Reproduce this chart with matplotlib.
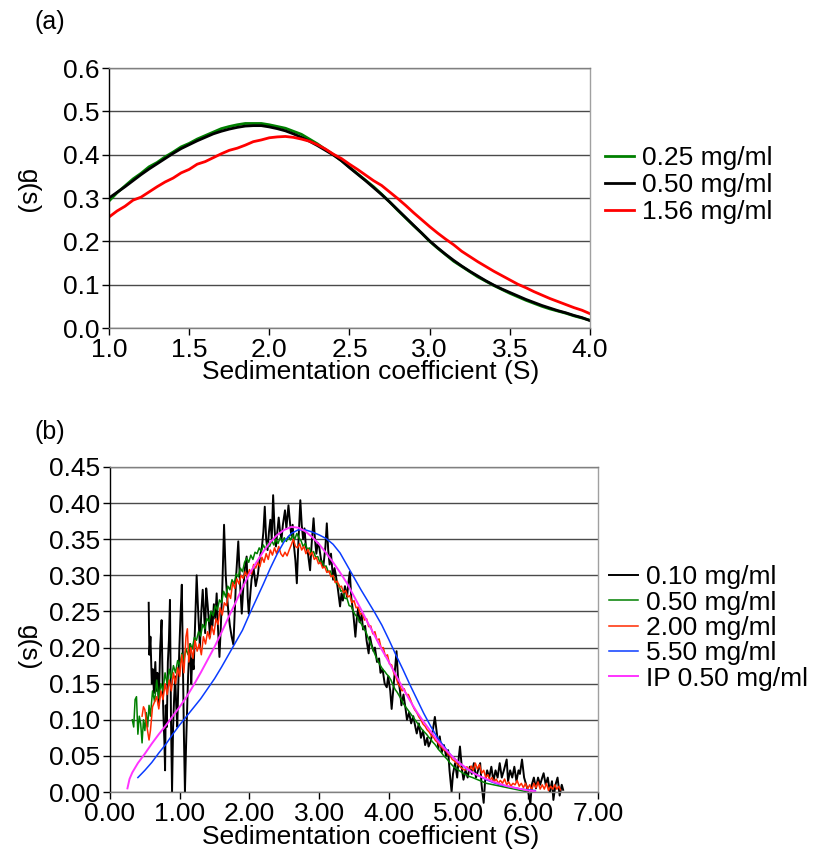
import matplotlib
matplotlib.use("Agg")
import matplotlib.pyplot as plt
import numpy as np

plt.rcParams['font.family'] = ['Liberation Sans', 'DejaVu Sans']

# ---------------- panel (a) data ----------------
a_x = [1.00, 1.05, 1.10, 1.15, 1.20, 1.25, 1.30, 1.35, 1.40, 1.45, 1.50, 1.55, 1.60, 1.65, 1.70,
       1.75, 1.80, 1.85, 1.90, 1.95, 2.00, 2.05, 2.10, 2.15, 2.20, 2.25, 2.30, 2.35, 2.40, 2.45,
       2.50, 2.55, 2.60, 2.65, 2.70, 2.75, 2.80, 2.85, 2.90, 2.95, 3.00, 3.05, 3.10, 3.15, 3.20,
       3.25, 3.30, 3.35, 3.40, 3.45, 3.50, 3.55, 3.60, 3.65, 3.70, 3.75, 3.80, 3.85, 3.90, 3.95, 4.00]
a_green = [0.293, 0.312, 0.328, 0.344, 0.357, 0.372, 0.382, 0.395, 0.406, 0.418, 0.426, 0.436, 0.444,
           0.452, 0.460, 0.465, 0.469, 0.472, 0.472, 0.472, 0.469, 0.465, 0.461, 0.454, 0.447, 0.436,
           0.425, 0.412, 0.400, 0.386, 0.371, 0.356, 0.341, 0.326, 0.309, 0.291, 0.272, 0.254, 0.236,
           0.219, 0.200, 0.184, 0.169, 0.154, 0.142, 0.130, 0.118, 0.108, 0.098, 0.089, 0.080, 0.072,
           0.064, 0.057, 0.050, 0.044, 0.039, 0.034, 0.028, 0.023, 0.018]
a_black = [0.300, 0.313, 0.326, 0.340, 0.354, 0.367, 0.379, 0.391, 0.403, 0.414, 0.423, 0.432, 0.440,
           0.448, 0.454, 0.459, 0.463, 0.466, 0.467, 0.467, 0.464, 0.460, 0.455, 0.448, 0.440, 0.431,
           0.421, 0.410, 0.399, 0.386, 0.370, 0.355, 0.340, 0.324, 0.308, 0.291, 0.273, 0.255, 0.237,
           0.219, 0.201, 0.185, 0.170, 0.156, 0.143, 0.131, 0.120, 0.109, 0.099, 0.090, 0.082, 0.074,
           0.066, 0.059, 0.052, 0.046, 0.040, 0.035, 0.029, 0.024, 0.017]
a_red = [0.256, 0.270, 0.281, 0.295, 0.302, 0.314, 0.326, 0.337, 0.346, 0.358, 0.366, 0.378, 0.384,
         0.393, 0.402, 0.410, 0.415, 0.422, 0.430, 0.434, 0.439, 0.441, 0.442, 0.440, 0.436, 0.431,
         0.423, 0.413, 0.401, 0.391, 0.378, 0.366, 0.353, 0.340, 0.329, 0.314, 0.299, 0.283, 0.266,
         0.250, 0.234, 0.219, 0.205, 0.192, 0.177, 0.165, 0.153, 0.142, 0.131, 0.121, 0.111, 0.101,
         0.093, 0.084, 0.076, 0.068, 0.061, 0.054, 0.047, 0.041, 0.033]
a_labels = ["0.25 mg/ml", "0.50 mg/ml", "1.56 mg/ml"]

# ---------------- panel (b) data ----------------
b_black_x = [0.555, 0.565, 0.58, 0.60, 0.615, 0.63, 0.65, 0.665, 0.68, 0.70, 0.72, 0.74, 0.755, 0.765,
             0.78, 0.79, 0.80, 0.815, 0.83, 0.845, 0.86, 0.875, 0.89, 0.905, 0.92, 0.935, 0.95, 0.965,
             0.98, 0.995, 1.01, 1.03, 1.045, 1.06, 1.075, 1.09, 1.105, 1.12, 1.135, 1.15, 1.165, 1.18,
             1.20, 1.22, 1.243, 1.26, 1.275, 1.29, 1.31, 1.33, 1.35, 1.365, 1.38, 1.40, 1.42, 1.435,
             1.45, 1.47, 1.49, 1.51, 1.53, 1.55, 1.57, 1.59, 1.61, 1.636, 1.66, 1.68, 1.70, 1.72,
             1.745, 1.77, 1.79, 1.81, 1.84, 1.865, 1.89, 1.91, 1.935, 1.96, 1.975, 1.99, 2.03, 2.06,
             2.09, 2.12, 2.15, 2.18, 2.20, 2.22, 2.24, 2.26, 2.28, 2.30, 2.32, 2.34, 2.36, 2.38, 2.40,
             2.42, 2.44, 2.46, 2.48, 2.51, 2.53, 2.56, 2.58, 2.60, 2.62, 2.64, 2.66, 2.68, 2.70, 2.73,
             2.75, 2.77, 2.79, 2.81, 2.84, 2.87, 2.89, 2.92, 2.94, 2.96, 2.98, 3.00, 3.03, 3.06, 3.09,
             3.11, 3.13, 3.15, 3.17, 3.20, 3.22, 3.24, 3.27, 3.30, 3.32, 3.34, 3.37, 3.40, 3.42, 3.44,
             3.46, 3.49, 3.52, 3.54, 3.56, 3.58, 3.61, 3.63, 3.66, 3.68, 3.71, 3.73, 3.75, 3.78, 3.80,
             3.83, 3.86, 3.88, 3.91, 3.94, 3.97, 3.99, 4.02, 4.04, 4.07, 4.09, 4.11, 4.13, 4.16, 4.18,
             4.21, 4.24, 4.26, 4.29, 4.32, 4.35, 4.38, 4.40, 4.43, 4.46, 4.49, 4.52, 4.55, 4.57, 4.60,
             4.63, 4.66, 4.69, 4.71, 4.73, 4.76, 4.79, 4.82, 4.85, 4.87, 4.90, 4.92, 4.95, 4.98, 5.00,
             5.02, 5.05, 5.07, 5.10, 5.13, 5.16, 5.19, 5.22, 5.25, 5.28, 5.31, 5.33, 5.36, 5.38, 5.41,
             5.44, 5.47, 5.50, 5.53, 5.56, 5.59, 5.62, 5.65, 5.69, 5.71, 5.74, 5.77, 5.80, 5.83, 5.86,
             5.88, 5.91, 5.94, 5.97, 6.00, 6.03, 6.05, 6.08, 6.11, 6.14, 6.17, 6.20, 6.22, 6.25, 6.28,
             6.31, 6.34, 6.36, 6.39, 6.42, 6.45, 6.48, 6.50]
b_black_y = [0.262, 0.190, 0.215, 0.150, 0.170, 0.137, 0.180, 0.140, 0.165, 0.120, 0.200, 0.238, 0.150,
             0.109, 0.070, 0.030, 0.120, 0.090, 0.180, 0.210, 0.266, 0.100, 0.000, 0.090, 0.130, 0.160,
             0.120, 0.090, 0.150, 0.200, 0.240, 0.287, 0.180, 0.080, 0.000, 0.060, 0.110, 0.160, 0.190,
             0.205, 0.150, 0.185, 0.170, 0.230, 0.300, 0.260, 0.230, 0.200, 0.250, 0.280, 0.245, 0.220,
             0.282, 0.260, 0.235, 0.215, 0.250, 0.230, 0.260, 0.240, 0.275, 0.225, 0.187, 0.230, 0.280,
             0.370, 0.300, 0.270, 0.247, 0.230, 0.215, 0.204, 0.250, 0.300, 0.347, 0.290, 0.247, 0.280,
             0.310, 0.326, 0.270, 0.247, 0.294, 0.310, 0.285, 0.300, 0.325, 0.340, 0.360, 0.395, 0.350,
             0.335, 0.360, 0.377, 0.350, 0.411, 0.365, 0.340, 0.360, 0.380, 0.360, 0.350, 0.370, 0.390,
             0.365, 0.397, 0.375, 0.355, 0.370, 0.340, 0.320, 0.289, 0.340, 0.404, 0.370, 0.350, 0.365,
             0.340, 0.330, 0.307, 0.340, 0.379, 0.350, 0.330, 0.345, 0.340, 0.320, 0.312, 0.340, 0.372,
             0.335, 0.315, 0.330, 0.294, 0.310, 0.300, 0.280, 0.257, 0.275, 0.265, 0.285, 0.270, 0.290,
             0.305, 0.270, 0.247, 0.215, 0.240, 0.255, 0.235, 0.245, 0.225, 0.230, 0.210, 0.192, 0.215,
             0.205, 0.195, 0.200, 0.180, 0.185, 0.165, 0.170, 0.150, 0.145, 0.160, 0.140, 0.115, 0.150,
             0.175, 0.195, 0.160, 0.140, 0.120, 0.135, 0.115, 0.100, 0.110, 0.095, 0.105, 0.090, 0.081,
             0.095, 0.075, 0.085, 0.065, 0.075, 0.063, 0.070, 0.085, 0.104, 0.080, 0.060, 0.077, 0.055,
             0.065, 0.050, 0.058, 0.030, 0.000, 0.025, 0.040, 0.020, 0.045, 0.063, 0.030, 0.017, 0.030,
             0.020, 0.035, 0.025, 0.040, 0.020, 0.030, 0.040, 0.010, -0.015, 0.015, 0.030, 0.020, 0.035,
             0.015, 0.030, 0.020, 0.040, 0.020, 0.030, 0.045, 0.015, 0.030, 0.020, 0.035, 0.015, 0.030,
             0.025, 0.045, 0.020, 0.010, 0.000, -0.016, 0.010, 0.020, 0.005, 0.020, 0.010, 0.020, 0.026,
             0.010, 0.020, 0.000, 0.015, -0.011, 0.010, 0.020, -0.005, 0.010, 0.003]

b_green_x = [0.32, 0.34, 0.36, 0.38, 0.40, 0.42, 0.44, 0.46, 0.48, 0.50, 0.52, 0.54, 0.56, 0.58, 0.61,
             0.64, 0.67, 0.70, 0.73, 0.76, 0.79, 0.82, 0.85, 0.88, 0.91, 0.94, 0.97, 1.00, 1.03, 1.06,
             1.09, 1.12, 1.15, 1.18, 1.21, 1.24, 1.27, 1.30, 1.33, 1.36, 1.39, 1.42, 1.45, 1.48, 1.51,
             1.54, 1.57, 1.60, 1.63, 1.66, 1.69, 1.72, 1.75, 1.78, 1.81, 1.84, 1.87, 1.90, 1.93, 1.96,
             1.99, 2.02, 2.05, 2.08, 2.11, 2.14, 2.17, 2.20, 2.23, 2.26, 2.29, 2.32, 2.35, 2.38, 2.41,
             2.44, 2.47, 2.50, 2.53, 2.56, 2.59, 2.62, 2.65, 2.68, 2.71, 2.74, 2.77, 2.80, 2.83, 2.86,
             2.89, 2.92, 2.95, 2.98, 3.01, 3.04, 3.07, 3.10, 3.13, 3.16, 3.19, 3.22, 3.25, 3.28, 3.31,
             3.34, 3.37, 3.40, 3.43, 3.46, 3.49, 3.52, 3.55, 3.58, 3.61, 3.64, 3.67, 3.70, 3.73, 3.76,
             3.79, 3.82, 3.85, 3.88, 3.91, 3.94, 3.97, 4.00, 4.03, 4.06, 4.09, 4.12, 4.15, 4.18, 4.21,
             4.24, 4.27, 4.30, 4.33, 4.36, 4.39, 4.42, 4.45, 4.48, 4.51, 4.54, 4.57, 4.60, 4.63, 4.66,
             4.69, 4.72, 4.75, 4.78, 4.81, 4.84, 4.87, 4.90, 4.93, 4.96, 4.99, 5.02, 5.05, 5.08, 5.11,
             5.14, 5.17, 5.20, 5.25, 5.30, 5.35, 5.40, 5.45, 5.50, 5.55, 5.60, 5.65, 5.70, 5.75, 5.80,
             5.85, 5.90, 5.95, 5.98]
b_green_y = [0.100, 0.090, 0.128, 0.132, 0.080, 0.105, 0.095, 0.068, 0.100, 0.085, 0.110, 0.090, 0.120,
             0.105, 0.140, 0.125, 0.155, 0.130, 0.150, 0.140, 0.165, 0.150, 0.170, 0.158, 0.175, 0.165,
             0.182, 0.175, 0.192, 0.183, 0.198, 0.190, 0.205, 0.198, 0.214, 0.210, 0.222, 0.216, 0.232,
             0.226, 0.240, 0.236, 0.250, 0.244, 0.258, 0.252, 0.266, 0.262, 0.278, 0.270, 0.285, 0.280,
             0.294, 0.288, 0.302, 0.298, 0.310, 0.305, 0.318, 0.324, 0.318, 0.328, 0.322, 0.332, 0.330,
             0.338, 0.333, 0.342, 0.336, 0.345, 0.340, 0.348, 0.342, 0.350, 0.344, 0.352, 0.346, 0.352,
             0.347, 0.354, 0.349, 0.356, 0.350, 0.358, 0.352, 0.348, 0.340, 0.344, 0.336, 0.338, 0.330,
             0.333, 0.325, 0.326, 0.318, 0.320, 0.312, 0.313, 0.305, 0.306, 0.298, 0.297, 0.288, 0.288,
             0.278, 0.279, 0.268, 0.268, 0.258, 0.257, 0.250, 0.245, 0.242, 0.236, 0.232, 0.226, 0.222,
             0.214, 0.208, 0.200, 0.193, 0.186, 0.180, 0.175, 0.170, 0.167, 0.163, 0.160, 0.155, 0.148,
             0.142, 0.138, 0.133, 0.128, 0.122, 0.118, 0.114, 0.110, 0.106, 0.102, 0.098, 0.094, 0.090,
             0.086, 0.083, 0.080, 0.076, 0.073, 0.069, 0.066, 0.062, 0.058, 0.055, 0.051, 0.048, 0.045,
             0.041, 0.038, 0.035, 0.033, 0.031, 0.029, 0.027, 0.025, 0.024, 0.022, 0.021, 0.020, 0.018,
             0.016, 0.014, 0.012, 0.011, 0.010, 0.009, 0.008, 0.007, 0.006, 0.005, 0.004, 0.003, 0.002,
             0.001, 0.000]

b_red_x = [0.46, 0.48, 0.50, 0.53, 0.56, 0.58, 0.61, 0.64, 0.67, 0.70, 0.73, 0.76, 0.79, 0.82, 0.85,
           0.88, 0.91, 0.94, 0.97, 1.00, 1.03, 1.06, 1.09, 1.11, 1.13, 1.16, 1.19, 1.22, 1.25, 1.28,
           1.31, 1.34, 1.37, 1.40, 1.43, 1.46, 1.49, 1.52, 1.55, 1.58, 1.61, 1.64, 1.67, 1.70, 1.73,
           1.76, 1.79, 1.82, 1.85, 1.88, 1.91, 1.94, 1.97, 2.00, 2.03, 2.06, 2.09, 2.12, 2.15, 2.18,
           2.21, 2.24, 2.27, 2.30, 2.33, 2.36, 2.39, 2.42, 2.45, 2.48, 2.51, 2.54, 2.57, 2.60, 2.63,
           2.66, 2.69, 2.72, 2.75, 2.78, 2.81, 2.84, 2.87, 2.90, 2.93, 2.96, 2.99, 3.02, 3.05, 3.08,
           3.11, 3.14, 3.17, 3.20, 3.23, 3.26, 3.29, 3.32, 3.35, 3.38, 3.41, 3.44, 3.47, 3.50, 3.53,
           3.56, 3.59, 3.62, 3.65, 3.68, 3.71, 3.74, 3.77, 3.80, 3.83, 3.86, 3.89, 3.92, 3.95, 3.98,
           4.01, 4.04, 4.07, 4.10, 4.13, 4.16, 4.19, 4.22, 4.25, 4.28, 4.31, 4.34, 4.37, 4.40, 4.43,
           4.46, 4.49, 4.52, 4.55, 4.58, 4.61, 4.64, 4.67, 4.70, 4.73, 4.76, 4.79, 4.82, 4.85, 4.88,
           4.91, 4.94, 4.97, 5.00, 5.03, 5.06, 5.09, 5.12, 5.15, 5.18, 5.21, 5.24, 5.27, 5.30, 5.33,
           5.36, 5.39, 5.42, 5.45, 5.48, 5.51, 5.54, 5.57, 5.60, 5.63, 5.66, 5.69, 5.72, 5.75, 5.78,
           5.81, 5.84, 5.87, 5.90, 5.93, 5.96, 5.99, 6.02, 6.05, 6.08, 6.11, 6.14, 6.17, 6.20, 6.23,
           6.26, 6.29, 6.32, 6.35, 6.38, 6.41, 6.44, 6.46]
b_red_y = [0.105, 0.118, 0.114, 0.090, 0.072, 0.085, 0.118, 0.125, 0.132, 0.115, 0.140, 0.128, 0.150,
           0.135, 0.155, 0.140, 0.165, 0.150, 0.172, 0.160, 0.190, 0.165, 0.215, 0.226, 0.180, 0.200,
           0.185, 0.210, 0.195, 0.205, 0.190, 0.215, 0.205, 0.222, 0.212, 0.230, 0.218, 0.240, 0.232,
           0.255, 0.245, 0.262, 0.258, 0.275, 0.268, 0.290, 0.282, 0.295, 0.288, 0.300, 0.296, 0.305,
           0.298, 0.308, 0.302, 0.315, 0.310, 0.318, 0.312, 0.325, 0.318, 0.330, 0.322, 0.335, 0.328,
           0.338, 0.330, 0.340, 0.330, 0.326, 0.332, 0.327, 0.335, 0.342, 0.350, 0.340, 0.338, 0.344,
           0.335, 0.340, 0.330, 0.336, 0.328, 0.332, 0.322, 0.325, 0.316, 0.318, 0.310, 0.312, 0.304,
           0.306, 0.298, 0.300, 0.290, 0.292, 0.284, 0.285, 0.276, 0.279, 0.270, 0.272, 0.262, 0.265,
           0.255, 0.256, 0.246, 0.248, 0.238, 0.240, 0.229, 0.230, 0.219, 0.222, 0.210, 0.212, 0.199,
           0.200, 0.188, 0.190, 0.177, 0.176, 0.165, 0.160, 0.150, 0.146, 0.140, 0.143, 0.135, 0.135,
           0.128, 0.120, 0.114, 0.110, 0.104, 0.100, 0.094, 0.091, 0.086, 0.083, 0.078, 0.076, 0.071,
           0.069, 0.064, 0.062, 0.058, 0.057, 0.052, 0.050, 0.045, 0.043, 0.040, 0.037, 0.034, 0.032,
           0.030, 0.035, 0.029, 0.036, 0.030, 0.040, 0.032, 0.038, 0.026, 0.030, 0.020, 0.024, 0.016,
           0.020, 0.014, 0.018, 0.012, 0.016, 0.012, 0.018, 0.010, 0.014, 0.008, 0.012, 0.010, 0.016,
           0.008, 0.012, 0.006, 0.012, 0.004, 0.010, 0.003, 0.012, 0.006, 0.014, 0.004, 0.010, 0.004,
           0.012, 0.002, 0.008, 0.004, 0.010, 0.004, 0.008, 0.003]

b_blue_x = [0.40, 0.50, 0.60, 0.70, 0.80, 0.90, 1.00, 1.10, 1.20, 1.30, 1.40, 1.50, 1.60, 1.70, 1.80,
            1.90, 2.00, 2.10, 2.20, 2.30, 2.40, 2.50, 2.60, 2.70, 2.80, 2.90, 3.00, 3.10, 3.20, 3.30,
            3.40, 3.50, 3.60, 3.70, 3.80, 3.90, 4.00, 4.10, 4.20, 4.30, 4.40, 4.50, 4.60, 4.70, 4.80,
            4.90, 5.00, 5.10, 5.20, 5.30, 5.40, 5.50, 5.60, 5.70, 5.80, 5.90, 6.00, 6.10]
b_blue_y = [0.020, 0.030, 0.041, 0.054, 0.066, 0.080, 0.093, 0.105, 0.117, 0.129, 0.143, 0.157, 0.173,
            0.190, 0.207, 0.224, 0.246, 0.267, 0.288, 0.310, 0.330, 0.347, 0.358, 0.363, 0.363, 0.360,
            0.356, 0.351, 0.343, 0.331, 0.314, 0.297, 0.280, 0.264, 0.248, 0.231, 0.211, 0.190, 0.170,
            0.149, 0.129, 0.109, 0.091, 0.075, 0.062, 0.050, 0.041, 0.033, 0.027, 0.022, 0.017, 0.013,
            0.010, 0.008, 0.006, 0.004, 0.003, 0.002]

b_magenta_x = [0.25, 0.28, 0.32, 0.40, 0.50, 0.60, 0.70, 0.80, 0.90, 1.00, 1.10, 1.20, 1.30, 1.40,
               1.50, 1.60, 1.70, 1.80, 1.90, 2.00, 2.10, 2.20, 2.30, 2.40, 2.50, 2.60, 2.70, 2.80,
               2.90, 3.00, 3.10, 3.20, 3.30, 3.40, 3.50, 3.60, 3.70, 3.80, 3.90, 4.00, 4.10, 4.20,
               4.30, 4.40, 4.50, 4.60, 4.70, 4.80, 4.90, 5.00, 5.10, 5.20, 5.30, 5.40, 5.50, 5.60,
               5.70, 5.80, 5.90, 6.00, 6.10]
b_magenta_y = [0.005, 0.018, 0.027, 0.040, 0.053, 0.067, 0.080, 0.092, 0.105, 0.118, 0.132, 0.148,
               0.165, 0.183, 0.201, 0.221, 0.242, 0.262, 0.283, 0.302, 0.318, 0.333, 0.346, 0.356,
               0.363, 0.367, 0.366, 0.361, 0.353, 0.343, 0.331, 0.318, 0.304, 0.289, 0.271, 0.253,
               0.234, 0.216, 0.197, 0.180, 0.162, 0.144, 0.127, 0.111, 0.097, 0.084, 0.071, 0.060,
               0.050, 0.041, 0.034, 0.027, 0.022, 0.018, 0.014, 0.011, 0.008, 0.006, 0.004, 0.002,
               0.001]
b_labels = ["0.10 mg/ml", "0.50 mg/ml", "2.00 mg/ml", "5.50 mg/ml", "IP 0.50 mg/ml"]

FS = 19
W, H = 815, 863
fig = plt.figure(figsize=(W / 100, H / 100), dpi=100)


def style_axes(ax, yticks, xticks, xfmt, yfmt):
    ax.set_yticks(yticks)
    ax.set_xticks(xticks)
    ax.set_yticklabels([yfmt.format(v) for v in yticks], fontsize=FS)
    ax.set_xticklabels([xfmt.format(v) for v in xticks], fontsize=FS)
    ax.yaxis.grid(True, color='#4a4a4a', lw=1.0)
    ax.set_axisbelow(True)
    ax.tick_params(direction='out', length=5, width=1, pad=2)
    ax.spines['left'].set_color('black')
    ax.spines['bottom'].set_color('#808080')
    ax.spines['top'].set_color('#808080')
    ax.spines['right'].set_color('#a0a0a0')
    for s in ax.spines.values():
        s.set_linewidth(1.0)


# ---- panel (a) ----
ax1 = fig.add_axes([109 / W, 1 - 328 / H, 481 / W, 260 / H])
ax1.plot(a_x, a_green, color='#008000', lw=2.0, label=a_labels[0])
ax1.plot(a_x, a_black, color='black', lw=2.0, label=a_labels[1])
ax1.plot(a_x, a_red, color='#ff0000', lw=2.0, label=a_labels[2])
ax1.set_xlim(1.0, 4.0)
ax1.set_ylim(0.0, 0.6)
style_axes(ax1, [0.0, 0.1, 0.2, 0.3, 0.4, 0.5, 0.6], [1.0, 1.5, 2.0, 2.5, 3.0, 3.5, 4.0],
           "{:.1f}", "{:.1f}")
ax1.legend(loc='center left', bbox_to_anchor=(605 / W, 1 - 185 / H), bbox_transform=fig.transFigure,
           frameon=False, fontsize=FS, handlelength=1.1, handletextpad=0.3, labelspacing=0.12,
           borderpad=0, borderaxespad=0)

# ---- panel (b) ----
ax2 = fig.add_axes([110 / W, 1 - 792 / H, 488 / W, 325 / H])
ax2.plot(b_black_x, b_black_y, color='black', lw=1.4, label=b_labels[0], clip_on=False)
ax2.plot(b_green_x, b_green_y, color='#008000', lw=1.1, label=b_labels[1])
ax2.plot(b_red_x, b_red_y, color='#ff2a00', lw=1.1, label=b_labels[2])
ax2.plot(b_blue_x, b_blue_y, color='#0a3cff', lw=1.1, label=b_labels[3])
ax2.plot(b_magenta_x, b_magenta_y, color='#ff33ff', lw=1.4, label=b_labels[4])
ax2.set_xlim(0.0, 7.0)
ax2.set_ylim(0.0, 0.45)
style_axes(ax2, [0.0, 0.05, 0.1, 0.15, 0.2, 0.25, 0.3, 0.35, 0.4, 0.45],
           [0, 1, 2, 3, 4, 5, 6, 7], "{:.2f}", "{:.2f}")
ax2.legend(loc='center left', bbox_to_anchor=(609 / W, 1 - 628 / H), bbox_transform=fig.transFigure,
           frameon=False, fontsize=FS, handlelength=1.1, handletextpad=0.3, labelspacing=0.05,
           borderpad=0, borderaxespad=0)

# axis titles and panel letters
for yc in (372, 837):
    fig.text(371 / W, 1 - yc / H, "Sedimentation coefficient (S)", ha='center', va='center', fontsize=FS)
for yc in (192, 648):
    fig.text(28 / W, 1 - yc / H, "g(s)", ha='center', va='center', rotation=270, fontsize=FS)
fig.text(50 / W, 1 - 22 / H, "(a)", ha='center', va='center', fontsize=FS - 1)
fig.text(50 / W, 1 - 432 / H, "(b)", ha='center', va='center', fontsize=FS - 1)

fig.savefig("out.png", dpi=100)
